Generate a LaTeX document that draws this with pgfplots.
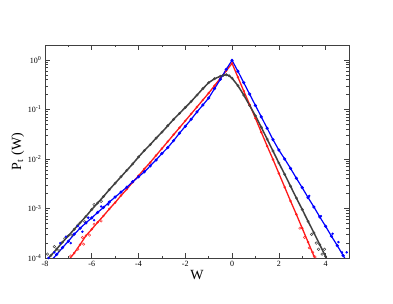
\documentclass[border=0pt]{standalone}
\usepackage{fontspec}
\setmainfont{Liberation Serif}
\usepackage{pgfplots}
\pgfplotsset{compat=1.18}

\pgfplotstableread{
W P
-8.0 6.31e-5
-7.75 8.71e-5
-7.5 1.175e-4
-7.25 1.622e-4
-7.0 2.188e-4
-6.75 3.020e-4
-6.5 3.981e-4
-6.25 5.129e-4
-6.0 6.457e-4
-5.75 8.318e-4
-5.5 1.047e-3
-5.25 1.349e-3
-5.0 1.698e-3
-4.75 2.138e-3
-4.5 2.692e-3
-4.25 3.467e-3
-4.0 4.365e-3
-3.75 5.495e-3
-3.5 7.244e-3
-3.25 9.550e-3
-3.0 1.288e-2
-2.75 1.698e-2
-2.5 2.344e-2
-2.25 3.311e-2
-2.0 4.571e-2
-1.75 6.310e-2
-1.5 8.913e-2
-1.25 0.1230
-1.0 0.1698
-0.75 0.2630
-0.5 0.4074
-0.25 0.6457
0.0 0.98
0.25 0.5888
0.5 0.3467
0.75 0.2042
1.0 0.1202
1.25 0.07079
1.5 0.04169
1.75 0.02455
2.0 0.01514
2.25 0.0100
2.5 6.457e-3
2.75 4.074e-3
3.0 2.630e-3
3.25 1.660e-3
3.5 1.072e-3
3.75 6.761e-4
4.0 4.365e-4
4.25 2.754e-4
4.5 1.778e-4
4.75 1.122e-4
5.0 7.244e-5
}\blue

\pgfplotstableread{
W P
-7.0 8.913e-5
-6.75 1.259e-4
-6.5 1.862e-4
-6.25 2.818e-4
-6.0 3.802e-4
-5.75 5.248e-4
-5.5 7.079e-4
-5.25 9.772e-4
-5.0 1.318e-3
-4.75 1.820e-3
-4.5 2.455e-3
-4.25 3.388e-3
-4.0 4.571e-3
-3.75 6.310e-3
-3.5 8.511e-3
-3.25 1.175e-2
-3.0 1.622e-2
-2.75 2.239e-2
-2.5 3.090e-2
-2.25 4.266e-2
-2.0 5.888e-2
-1.75 8.128e-2
-1.5 0.1122
-1.25 0.1549
-1.0 0.2138
-0.75 0.3020
-0.5 0.4266
-0.25 0.6026
0.0 0.8511
0.25 0.4467
0.5 0.2344
0.75 0.1259
1.0 0.06607
1.25 0.03467
1.5 0.01820
1.75 9.772e-3
2.0 5.129e-3
2.25 2.692e-3
2.5 1.413e-3
2.75 7.586e-4
3.0 3.981e-4
3.25 2.089e-4
3.5 1.096e-4
3.6 8.511e-5
}\red

\pgfplotstableread{
W P
-8.0 8.318e-5
-7.75 1.122e-4
-7.5 1.514e-4
-7.25 2.089e-4
-7.0 2.818e-4
-6.75 3.802e-4
-6.5 5.129e-4
-6.25 6.918e-4
-6.0 9.550e-4
-5.75 1.288e-3
-5.5 1.738e-3
-5.25 2.399e-3
-5.0 3.236e-3
-4.75 4.365e-3
-4.5 5.888e-3
-4.25 7.943e-3
-4.0 1.096e-2
-3.75 1.479e-2
-3.5 1.950e-2
-3.25 2.630e-2
-3.0 3.467e-2
-2.75 4.677e-2
-2.5 6.310e-2
-2.25 8.318e-2
-2.0 0.1096
-1.75 0.1445
-1.5 0.1950
-1.25 0.2630
-1.0 0.3467
-0.75 0.4169
-0.5 0.4677
-0.375 0.4898
-0.25 0.5012
-0.125 0.4786
0.0 0.4266
0.25 0.3020
0.5 0.1950
0.75 0.1202
1.0 0.07413
1.25 0.04365
1.5 0.02512
1.75 0.01445
2.0 8.318e-3
2.25 4.898e-3
2.5 2.818e-3
2.75 1.622e-3
3.0 9.550e-4
3.25 5.495e-4
3.5 3.236e-4
3.75 1.862e-4
4.0 1.072e-4
4.1 8.710e-5
}\black

\begin{document}
\begin{tikzpicture}
\path[use as bounding box] (0,0) rectangle (393pt,304pt);
\begin{axis}[
  at={(45pt,46pt)}, anchor=south west,
  scale only axis, width=304pt, height=213pt,
  ymode=log, xmin=-8, xmax=5, ymin=1e-4, ymax=2,
  axis line style={black!75, line width=0.8pt},
  every tick/.style={black!75, line width=0.6pt},
  major tick length=5pt, minor tick length=2.5pt,
  tick align=inside,
  xtick={-8,-6,-4,-2,0,2,4},
  xticklabels={-8,-6,-4,-2,0,2,4},
  minor x tick num=1,
  ytick={1e-4,1e-3,1e-2,1e-1,1},
  yticklabels={10\textsuperscript{-4},10\textsuperscript{-3},10\textsuperscript{-2},10\textsuperscript{-1},10\textsuperscript{0}},
  tick label style={font=\fontsize{8}{9}\selectfont},
  xlabel={W}, ylabel={P\textsubscript{t} (W)},
  label style={font=\fontsize{14}{16}\selectfont},
  xlabel style={at={(axis description cs:0.5,-0.08)}, anchor=center},
  ylabel style={at={(axis description cs:-0.09,0.5)}, anchor=center},
]
\addplot[red!90, line width=1.3pt, mark=o, mark size=1pt, mark options={line width=0.5pt}] table[x=W,y=P] {\red};
\addplot[red!80, only marks, mark=o, mark size=1.2pt, mark options={line width=0.5pt}] coordinates {
 (-6.9,1.1e-4) (-6.6,1.5e-4) (-6.4,2.6e-4) (-6.35,1.9e-4) (-6.1,2.9e-4) (-5.9,4.8e-4) (-5.6,5.6e-4)
 (3.3,1.6e-4) (3.45,1.3e-4) (3.55,1.05e-4) (3.1,2.6e-4) (2.9,4.0e-4)};
\addplot[black!75, line width=1.5pt, mark=o, mark size=1.2pt, mark options={line width=0.5pt}] table[x=W,y=P] {\black};
\addplot[black!75, only marks, mark=o, mark size=1.3pt, mark options={line width=0.5pt}] coordinates {
 (-7.9,1.2e-4) (-7.6,1.7e-4) (-7.4,1.4e-4) (-7.15,2.5e-4) (-6.85,2.9e-4) (-6.6,4.6e-4) (-6.3,5.4e-4) (-5.9,1.2e-3) (-5.6,1.4e-3)
 (3.6,2.0e-4) (3.7,1.5e-4) (3.85,1.2e-4) (3.95,1.5e-4) (3.4,3.0e-4)};
\addplot[blue, line width=1.2pt, mark=*, mark size=0.9pt] table[x=W,y=P] {\blue};
\addplot[blue, only marks, mark=*, mark size=1pt] coordinates {
 (-7.85,1.0e-4) (-7.6,1.3e-4) (-7.35,2.0e-4) (-7.1,2.7e-4) (-6.9,2.0e-4) (-6.6,4.4e-4) (-6.4,3.4e-4) (-6.15,6.5e-4) (-5.9,5.8e-4) (-5.6,1.1e-3) (-5.3,1.2e-3)
 (4.3,3.1e-4) (4.55,2.1e-4) (4.7,1.3e-4) (4.9,1.3e-4) (3.3,1.8e-3) (3.8,7.0e-4)};
\end{axis}
\end{tikzpicture}
\end{document}
